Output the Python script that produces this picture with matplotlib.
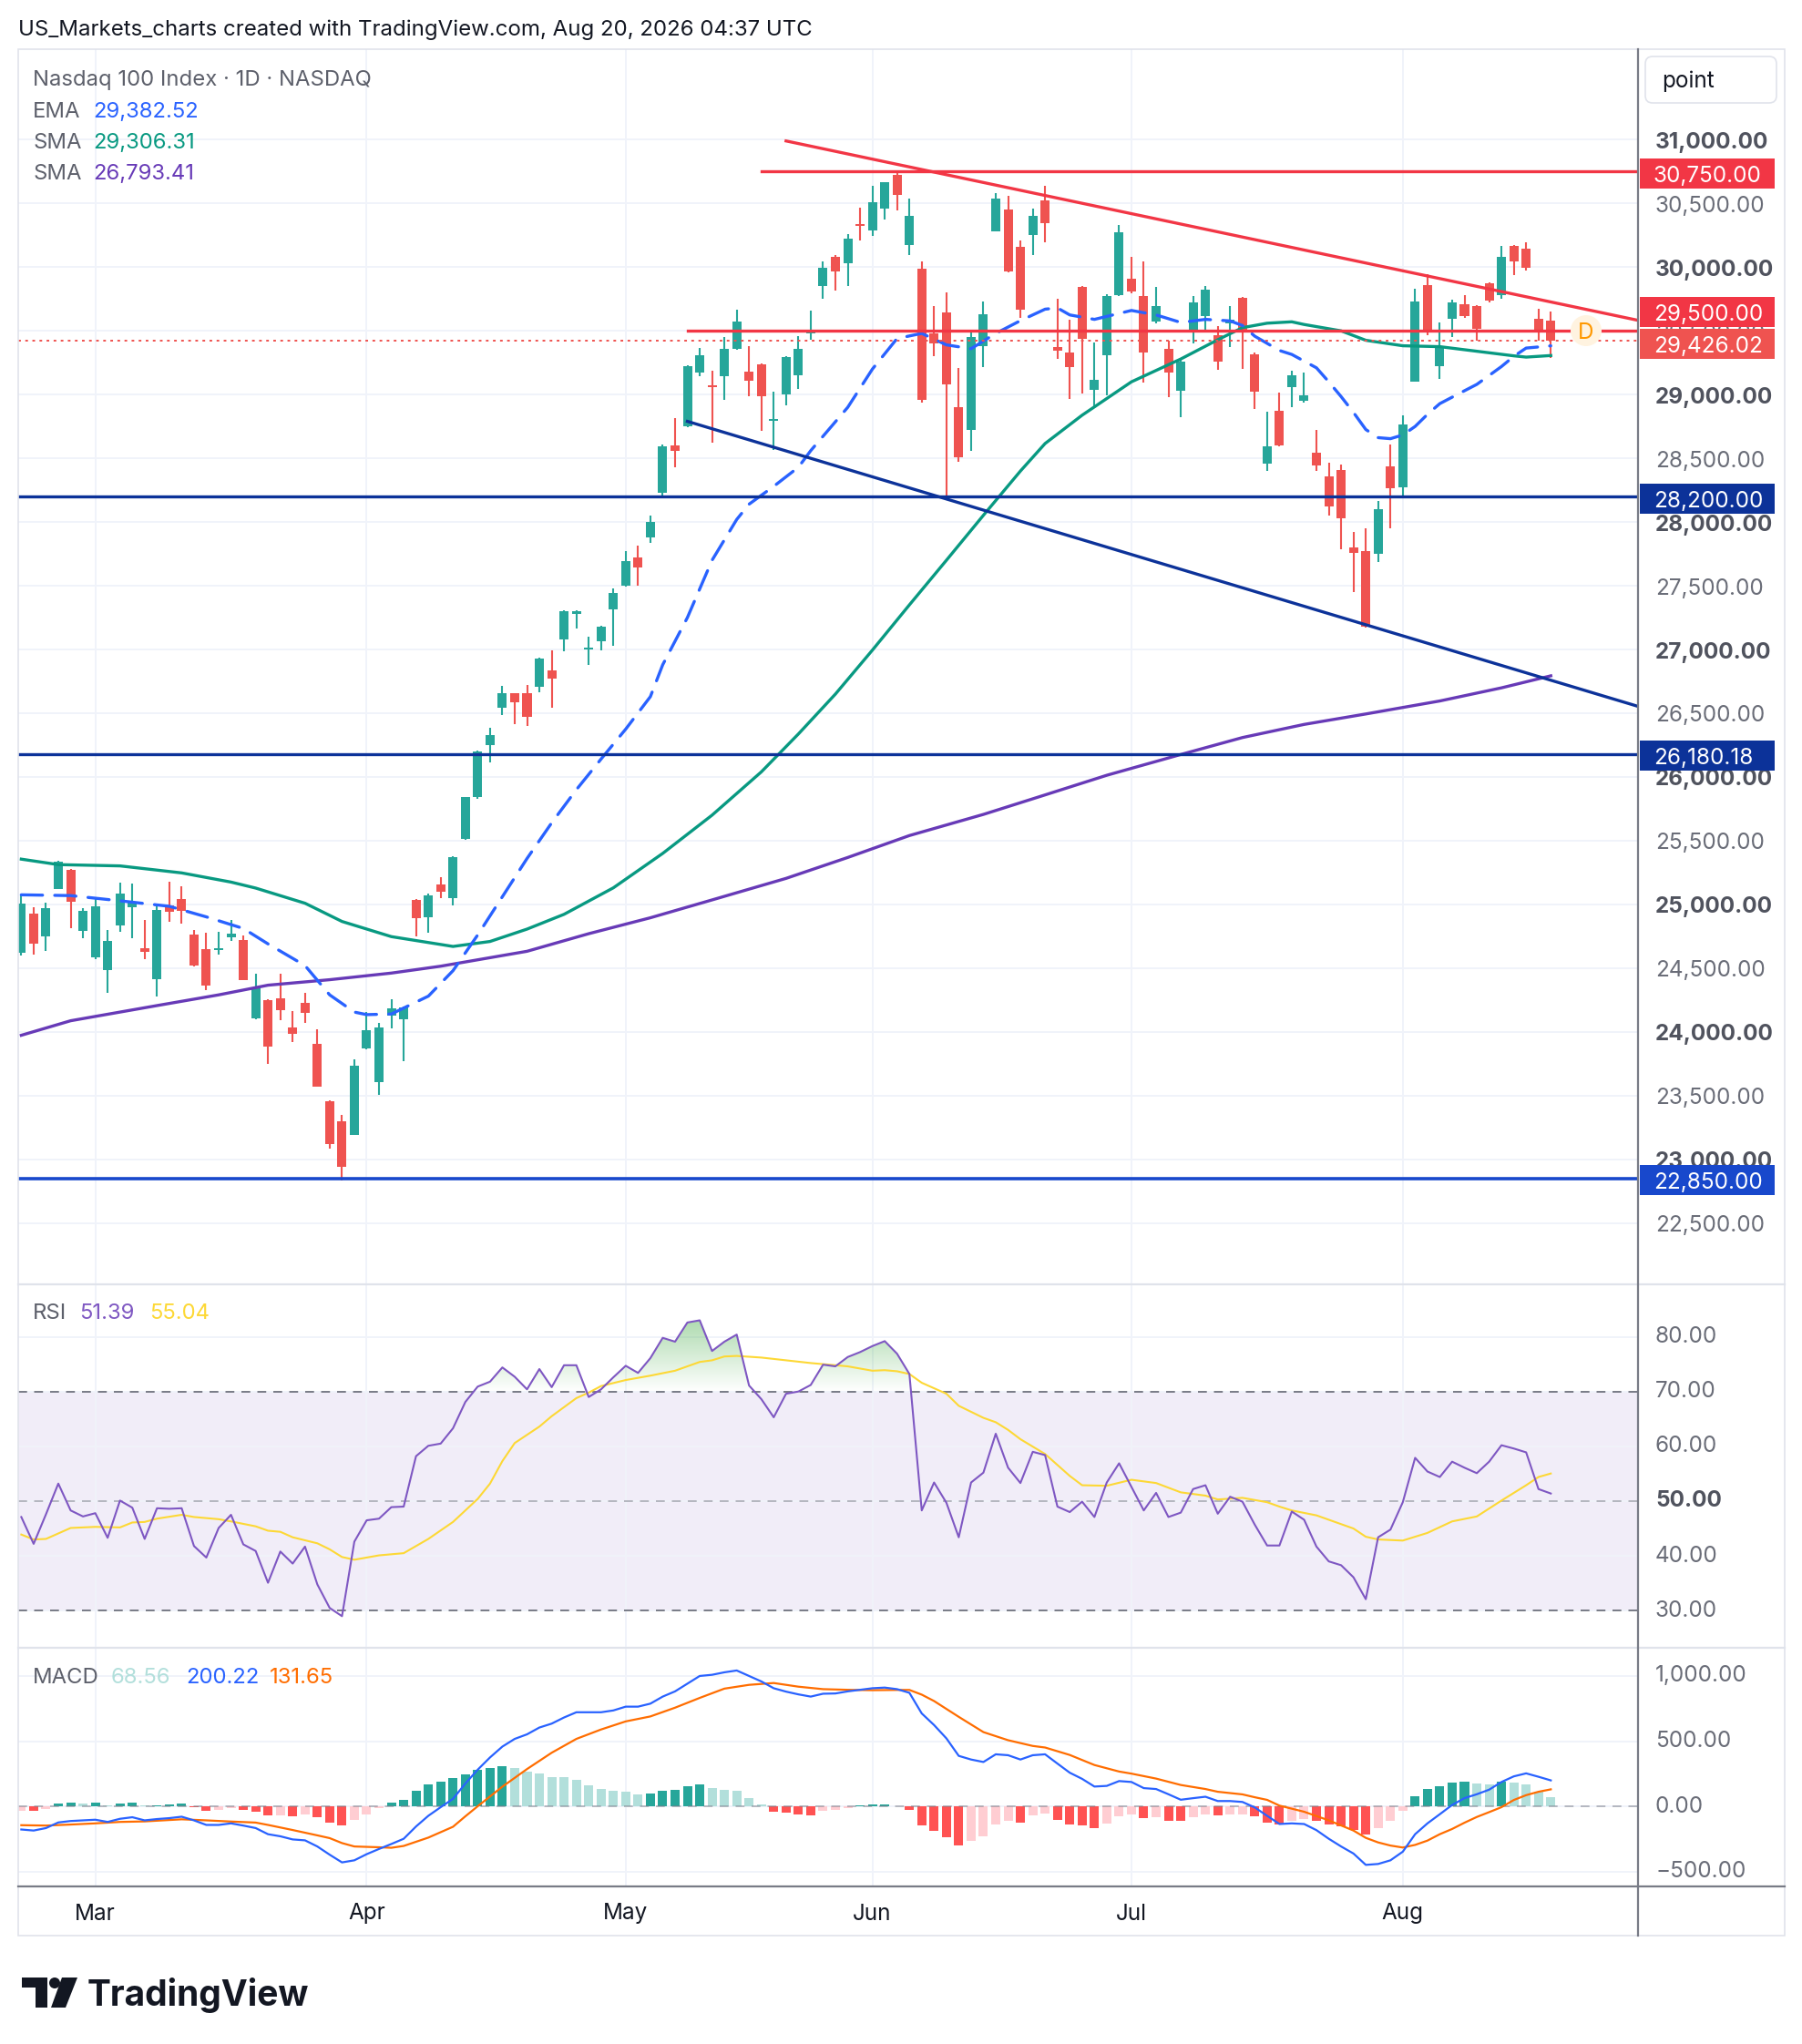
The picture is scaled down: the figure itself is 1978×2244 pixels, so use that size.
import numpy as np
import matplotlib
matplotlib.use("Agg")
import matplotlib.pyplot as plt
from matplotlib import transforms
from matplotlib.patches import Rectangle, FancyBboxPatch, PathPatch, Circle, Polygon
from matplotlib.path import Path

plt.rcParams['font.family'] = ['Inter', 'DejaVu Sans']

# ---------------- DATA ----------------
months = ['Mar', 'Apr', 'May', 'Jun', 'Jul', 'Aug']
month_idx = [6, 28, 49, 69, 90, 112]

opens = [24623, 24926, 24752, 25123, 25273, 24795, 24587, 24487, 24838, 24980,
         24657, 24416, 24992, 25042, 24764, 24647, 24640, 24742, 24721, 24109,
         24252, 24263, 24035, 24228, 23906, 23456, 23299, 23194, 23870, 23608,
         24130, 24097, 25033, 24902, 25157, 25052, 25511, 25845, 26248, 26542,
         26655, 26655, 26705, 26837, 27077, 27279, 27004, 27062, 27318, 27500,
         27721, 27880, 28228, 28604, 28752, 29174, 29068, 29147, 29360, 29178,
         29240, 28798, 29003, 29148, 29484, 29850, 30084, 30027, 30336, 30291,
         30462, 30727, 30172, 29991, 29481, 29648, 28898, 28726, 29379, 30284,
         30455, 30160, 30255, 30527, 29370, 29327, 29847, 29036, 29308, 29780,
         29912, 29776, 29573, 29361, 29031, 29492, 29618, 29466, 29561, 29761,
         29315, 28456, 28874, 29060, 28953, 28542, 28355, 28405, 27801, 27774,
         27748, 28439, 28272, 29103, 29859, 29220, 29593, 29710, 29696, 29873,
         29777, 30167, 30145, 29593, 29579]
highs = [25069, 24978, 25014, 25340, 25280, 24973, 25050, 24799, 25171, 25164,
         24878, 25004, 25178, 25142, 24799, 24778, 24782, 24878, 24757, 24456,
         24255, 24456, 24163, 24306, 24020, 23460, 23349, 23785, 24156, 24071,
         24254, 24200, 25040, 25085, 25214, 25378, 25845, 26205, 26387, 26713,
         26660, 26725, 26938, 26996, 27305, 27305, 27101, 27186, 27480, 27771,
         27818, 28054, 28605, 28818, 29232, 29368, 29186, 29449, 29666, 29380,
         29245, 29023, 29300, 29462, 29662, 30048, 30096, 30262, 30469, 30636,
         30669, 30762, 30541, 30048, 29696, 29803, 29212, 29505, 29731, 30584,
         30560, 30212, 30462, 30641, 29749, 29590, 29850, 29411, 29790, 30329,
         30084, 30048, 29847, 29423, 29279, 29776, 29852, 29537, 29697, 29768,
         29327, 28867, 29017, 29189, 29172, 28726, 28468, 28453, 27925, 27954,
         28162, 28606, 28840, 29830, 29945, 29567, 29746, 29782, 29700, 29882,
         30167, 30174, 30196, 29675, 29651]
lows = [24600, 24609, 24635, 25120, 24814, 24735, 24568, 24306, 24788, 24735,
        24573, 24280, 24864, 24849, 24514, 24330, 24604, 24716, 24405, 24097,
        23751, 24094, 23920, 24071, 23570, 23087, 22837, 23190, 23866, 23508,
        24030, 23770, 24752, 24780, 25052, 24995, 25505, 25830, 26112, 26484,
        26414, 26403, 26666, 26542, 26988, 27163, 26880, 26996, 27027, 27495,
        27500, 27837, 28209, 28430, 28745, 29147, 28624, 28961, 29349, 28984,
        28713, 28566, 28914, 29041, 29429, 29755, 29815, 29850, 30212, 30243,
        30374, 30446, 30093, 28934, 29298, 28196, 28469, 28557, 29219, 30280,
        29960, 29605, 30093, 30193, 29279, 28964, 29005, 28898, 28993, 29775,
        29797, 29096, 29561, 28981, 28821, 29403, 29494, 29196, 29375, 29203,
        28890, 28401, 28593, 28898, 28938, 28401, 28049, 27786, 27447, 27175,
        27686, 27949, 28195, 29100, 29467, 29125, 29455, 29605, 29424, 29722,
        29753, 29937, 29971, 29426, 29287]
closes = [25004, 24695, 24969, 25335, 25023, 24950, 24985, 24714, 25085, 25014,
          24630, 24957, 24945, 24952, 24521, 24366, 24655, 24771, 24409, 24349,
          23887, 24173, 23987, 24152, 23573, 23122, 22944, 23735, 24013, 24035,
          24183, 24192, 24890, 25071, 25102, 25371, 25841, 26201, 26325, 26659,
          26585, 26473, 26930, 26775, 27302, 27300, 27015, 27178, 27442, 27694,
          27643, 28004, 28597, 28558, 29225, 29310, 29058, 29360, 29573, 29108,
          28984, 28810, 29294, 29362, 29492, 29998, 29969, 30227, 30326, 30512,
          30665, 30565, 30405, 28957, 29405, 29077, 28510, 29450, 29631, 30541,
          29965, 29665, 30403, 30343, 29346, 29215, 29435, 29117, 29776, 30277,
          29809, 29332, 29697, 29172, 29256, 29726, 29826, 29260, 29590, 29504,
          29024, 28592, 28599, 29153, 28993, 28447, 28123, 28028, 27758, 27179,
          28104, 28267, 28769, 29729, 29486, 29371, 29722, 29615, 29519, 29737,
          30083, 30045, 29992, 29510, 29426.02]

ema_idx = [0, 4, 8, 12, 15, 18, 20, 23, 25, 27, 28, 30, 33, 35, 37, 39, 41, 43, 45, 47,
           49, 51, 52, 54, 56, 58, 59, 61, 63, 64, 67, 69, 71, 73, 75, 77, 79, 81, 83, 84,
           85, 87, 90, 92, 94, 96, 98, 99, 100, 102, 103, 105, 106, 107, 108, 109, 110, 111,
           112, 113, 114, 115, 117, 118, 120, 121, 122, 124]
ema_val = [25075, 25069, 25028, 24985, 24902, 24811, 24690, 24520, 24290, 24155, 24135,
           24140, 24280, 24480, 24760, 25060, 25360, 25640, 25900, 26140, 26375, 26630,
           26880, 27250, 27700, 28020, 28140, 28280, 28430, 28560, 28900, 29200, 29440,
           29480, 29390, 29360, 29480, 29580, 29670, 29680, 29625, 29590, 29660, 29625,
           29566, 29590, 29578, 29542, 29458, 29346, 29315, 29210, 29100, 28984, 28860,
           28726, 28662, 28654, 28683, 28750, 28845, 28929, 29030, 29080, 29220, 29300,
           29365, 29382.52]

sma50_idx = [0, 3, 8, 13, 17, 19, 23, 26, 30, 35, 38, 41, 44, 48, 52, 56, 60, 63, 66, 69,
             72, 75, 78, 81, 83, 86, 90, 94, 97, 99, 101, 103, 104, 107, 109, 112, 115, 118,
             121, 122, 124]
sma50_val = [25355, 25312, 25302, 25247, 25175, 25128, 25009, 24866, 24747, 24670, 24709,
             24806, 24922, 25130, 25400, 25700, 26040, 26337, 26650, 26995, 27350, 27700,
             28053, 28400, 28616, 28838, 29100, 29279, 29430, 29525, 29560, 29571, 29550,
             29500, 29426, 29383, 29376, 29340, 29304, 29294, 29306.31]

sma200_idx = [0, 4, 11, 16, 20, 25, 30, 34, 41, 46, 51, 56, 62, 67, 72, 78, 83, 88, 94,
              99, 104, 109, 115, 120, 124]
sma200_val = [23973, 24087, 24206, 24290, 24366, 24409, 24461, 24515, 24632, 24770, 24895,
              25035, 25204, 25368, 25540, 25706, 25859, 26013, 26176, 26309, 26412, 26494,
              26596, 26699, 26793.41]

rsi_val = [47.1, 42.2, 47.6, 53.2, 48.3, 47.2, 47.8, 43.3, 50.1, 48.8,
           43.1, 48.7, 48.6, 48.7, 41.8, 39.7, 45.1, 47.5, 42.1, 40.9,
           35.1, 40.8, 38.6, 41.7, 34.8, 30.5, 29.0, 42.6, 46.5, 46.8,
           48.9, 49.0, 58.2, 60.1, 60.5, 63.3, 68.1, 70.9, 71.8, 74.4,
           72.7, 70.4, 74.1, 70.8, 74.8, 74.8, 69.0, 70.4, 72.6, 74.7,
           73.4, 76.1, 79.8, 79.1, 82.6, 83.0, 77.4, 79.1, 80.4, 71.1,
           68.6, 65.3, 69.6, 70.0, 71.2, 74.9, 74.6, 76.3, 77.2, 78.3,
           79.2, 76.9, 73.2, 48.3, 53.4, 49.7, 43.4, 53.4, 55.2, 62.3,
           56.1, 53.3, 59.0, 58.4, 49.0, 48.0, 49.9, 47.1, 53.4, 56.9,
           52.6, 48.3, 51.5, 47.1, 47.9, 52.2, 52.9, 47.7, 50.8, 49.9,
           45.7, 41.9, 41.9, 48.1, 46.6, 41.7, 39.0, 38.3, 36.1, 32.1,
           43.4, 44.8, 49.8, 57.9, 55.4, 54.4, 57.2, 56.1, 55.1, 57.2,
           60.2, 59.6, 58.9, 52.2, 51.39]

rsi_ma_idx = [0, 1, 2, 4, 6, 8, 9, 10, 11, 13, 14, 16, 17, 19, 20, 21, 22, 24, 25, 26, 27,
              28, 29, 31, 33, 35, 37, 38, 39, 40, 42, 43, 45, 46, 47, 49, 51, 53, 55, 56, 57,
              58, 60, 62, 64, 67, 69, 70, 71, 72, 73, 75, 76, 78, 79, 80, 81, 83, 85, 86, 88,
              90, 92, 94, 96, 97, 99, 101, 102, 103, 105, 106, 108, 109, 110, 112, 114, 116,
              118, 120, 122, 123, 124]
rsi_ma_val = [43.9, 43.0, 43.1, 45.1, 45.3, 45.2, 46.1, 46.2, 46.8, 47.5, 47.1, 46.7, 46.3,
              45.4, 44.6, 44.4, 43.4, 42.3, 41.2, 39.8, 39.3, 39.7, 40.1, 40.5, 43.1, 46.2,
              50.4, 53.2, 57.3, 60.6, 63.6, 65.5, 68.8, 69.8, 71.0, 72.1, 72.9, 73.8, 75.4,
              75.7, 76.4, 76.5, 76.2, 75.7, 75.2, 74.6, 73.8, 73.9, 73.7, 73.2, 71.6, 69.6,
              67.4, 65.2, 64.4, 63.0, 61.3, 58.6, 54.6, 52.9, 52.8, 53.9, 53.3, 51.6, 51.0,
              50.3, 50.6, 49.8, 49.0, 48.3, 47.4, 46.6, 45.0, 43.5, 43.0, 42.8, 44.2, 46.3,
              47.2, 50.1, 52.9, 54.4, 55.04]

macd_val = [-176, -184, -165, -122, -111, -106, -101, -118, -94, -82,
            -106, -96, -89, -78, -106, -141, -141, -129, -146, -165,
            -212, -228, -252, -259, -306, -369, -428, -412, -365, -325,
            -287, -247, -153, -71, -5, 59, 176, 282, 376, 459,
            518, 553, 605, 635, 682, 722, 722, 722, 736, 765,
            765, 788, 842, 882, 941, 1000, 1009, 1028, 1042, 1000,
            958, 906, 880, 859, 842, 864, 866, 882, 894, 906,
            911, 899, 871, 713, 624, 522, 388, 360, 341, 400,
            393, 360, 393, 400, 329, 259, 212, 153, 158, 195,
            188, 141, 134, 94, 52, 64, 75, 42, 42, 35,
            -7, -71, -134, -129, -134, -181, -247, -306, -360, -447,
            -440, -412, -346, -212, -129, -59, 12, 64, 94, 129,
            188, 231, 254, 228, 200.22]

signal_idx = [0, 2, 4, 6, 8, 10, 13, 15, 17, 19, 20, 22, 24, 25, 26, 27, 29, 30, 31, 33,
              35, 36, 37, 39, 41, 43, 45, 47, 49, 51, 53, 55, 57, 59, 61, 63, 65, 67, 69,
              71, 72, 73, 74, 76, 78, 80, 82, 83, 85, 87, 89, 90, 92, 94, 96, 97, 99, 100,
              101, 102, 104, 106, 108, 109, 110, 111, 112, 113, 114, 115, 116, 117, 118,
              119, 120, 121, 122, 123, 124]
signal_val = [-143, -146, -138, -129, -118, -114, -98, -106, -115, -123, -141, -180, -221,
              -242, -280, -306, -312, -316, -302, -238, -155, -75, 2, 152, 287, 412, 518,
              590, 652, 690, 757, 832, 903, 932, 946, 918, 899, 894, 891, 893, 893, 857, 808,
              687, 570, 508, 464, 452, 395, 318, 268, 252, 214, 165, 134, 113, 93, 71, 51, 7,
              -40, -106, -184, -240, -275, -299, -314, -294, -261, -212, -172, -124, -80,
              -43, -5, 50, 87, 113, 131.65]

hist_val = [-33, -36, -19, 24, 27, 25, 28, 12, 24, 27,
            8, 12, 18, 20, -7, -35, -28, -14, -28, -42,
            -71, -68, -72, -61, -85, -127, -148, -106, -59, -14,
            31, 54, 118, 167, 188, 216, 247, 280, 294, 308,
            294, 268, 252, 226, 222, 205, 160, 132, 120, 111,
            96, 98, 124, 126, 153, 169, 139, 125, 118, 68,
            16, -42, -49, -58, -66, -35, -28, -14, 12, 14,
            19, 5, -24, -144, -184, -235, -299, -264, -228, -136,
            -113, -122, -71, -52, -101, -136, -144, -165, -129, -73,
            -64, -92, -80, -108, -113, -85, -59, -71, -59, -58,
            -78, -122, -141, -108, -94, -113, -141, -153, -176, -212,
            -165, -113, -35, 82, 132, 153, 184, 188, 174, 172,
            193, 181, 167, 115, 68.56]

price_ticks = list(range(22500, 31001, 500))
rsi_ticks = [30, 40, 50, 60, 70, 80]
macd_ticks = [-500, 0, 500, 1000]

res_line = ([62, 126], [30990, 29686])      # red falling resistance
sup_line = ([54, 115], [28790, 27020])      # navy falling support
red_levels = [(30750.00, 60), (29500.00, 54)]
navy_levels = [28200.00, 26180.18]
blue_level = 22850.00
last_price = closes[-1]

# ---------------- STYLE ----------------
UP, DN = '#26a69a', '#ef5350'
RED, NAVY, BLUE2 = '#f23645', '#0c3299', '#1848cc'
GRID = '#f0f3fa'
TXT = '#131722'
AX_TXT = '#6a6d78'
FS_AX = 17.5
FS_LG = 17.2

W, H = 1978, 2244
fig = plt.figure(figsize=(W / 100, H / 100), dpi=100)
fig.patch.set_facecolor('white')
down3 = transforms.ScaledTranslation(0, -3 / 100, fig.dpi_scale_trans)

L, R = 20, 1798
XMIN, XMAX = -0.25, 131.07
P_TOP, P_BOT, P_LIM = 54, 1409, (22026, 31710)
R_TOP, R_BOT, R_LIM = 1411, 1808, (23.4, 89.4)
M_TOP, M_BOT, M_LIM = 1810, 2071, (-612, 1209)


def make_ax(top, bot, ylim):
    ax = fig.add_axes([L / W, 1 - bot / H, (R - L) / W, (bot - top) / H])
    ax.set_xlim(XMIN, XMAX)
    ax.set_ylim(*ylim)
    ax.set_axis_off()
    return ax


ax_p = make_ax(P_TOP, P_BOT, P_LIM)
ax_r = make_ax(R_TOP, R_BOT, R_LIM)
ax_m = make_ax(M_TOP, M_BOT, M_LIM)

for ax, ticks in ((ax_p, price_ticks), (ax_r, rsi_ticks), (ax_m, macd_ticks)):
    for t in ticks:
        ax.axhline(t, color=GRID, lw=1.4, zorder=0.5)
    for m in month_idx:
        ax.axvline(m, color=GRID, lw=1.4, zorder=0.5)

# ---------------- PRICE PANE ----------------
x = np.arange(len(closes))
o = np.array(opens, float)
h = np.array(highs, float)
l = np.array(lows, float)
c = np.array(closes, float)
col = np.where(c >= o, UP, DN)
ax_p.vlines(x, l, h, colors=col, lw=1.5, zorder=3)
mid = (o + c) / 2
bh = np.maximum(np.abs(c - o), 14)
ax_p.bar(x, bh, bottom=mid - bh / 2, width=0.74, color=col, lw=0, zorder=3.5)

ax_p.plot(sma200_idx, sma200_val, color='#673ab7', lw=2.4, zorder=4)
ax_p.plot(sma50_idx, sma50_val, color='#089981', lw=2.4, zorder=4)
ax_p.plot(ema_idx, ema_val, color='#2962ff', lw=2.4, ls=(0, (7, 4)), zorder=4.2,
          dash_capstyle='round')


def extend(pts):
    (x0, x1), (y0, y1) = pts
    s = (y1 - y0) / (x1 - x0)
    return [x0, XMAX], [y0, y0 + s * (XMAX - x0)]


ax_p.plot(*extend(res_line), color=RED, lw=2.4, zorder=5)
ax_p.plot(*extend(sup_line), color=NAVY, lw=2.4, zorder=5)
for price, start in red_levels:
    ax_p.plot([start, XMAX], [price, price], color=RED, lw=2.4, zorder=5)
for price in navy_levels:
    ax_p.axhline(price, color=NAVY, lw=2.4, zorder=5)
ax_p.axhline(blue_level, color=BLUE2, lw=2.6, zorder=5)
ax_p.axhline(last_price, color='#ef5350', lw=1.4, ls=(0, (1.5, 2.5)), zorder=5)

# right price scale
tr_p = transforms.blended_transform_factory(fig.transFigure, ax_p.transData)
for t in price_ticks:
    bold = t % 1000 == 0
    ax_p.text(1817 / W, t, f'{t:,.2f}', transform=tr_p + down3, va='center', ha='left',
              fontsize=FS_AX, color='#50535e' if bold else AX_TXT,
              fontweight='bold' if bold else 'normal', clip_on=False, zorder=6)

upp = (P_LIM[1] - P_LIM[0]) / (P_BOT - P_TOP)
labels = [(red_levels[0][0], RED, 2), (red_levels[1][0], RED, -21),
          (last_price, '#ef5350', 4), (navy_levels[0], NAVY, 2),
          (navy_levels[1], NAVY, 2), (blue_level, BLUE2, 2)]
for price, colr, dpx in labels:
    yc = price - dpx * upp
    ax_p.add_patch(Rectangle((1800 / W, yc - 16.5 * upp), 148 / W, 33 * upp,
                             transform=tr_p, facecolor=colr, edgecolor='none',
                             clip_on=False, zorder=7))
    ax_p.text(1815 / W, yc, f'{price:,.2f}', transform=tr_p + down3, va='center',
              ha='left', fontsize=FS_AX, color='white', clip_on=False, zorder=8)

# ---------------- RSI PANE ----------------
rsi = np.array(rsi_val)
ax_r.axhspan(30, 70, color='#7e57c2', alpha=0.1, lw=0, zorder=0.4)
for lvl, a in ((70, 1.0), (50, 0.5), (30, 1.0)):
    ax_r.axhline(lvl, color='#787b86', alpha=a, lw=1.4, ls=(0, (5, 4)), zorder=1)
fb = ax_r.fill_between(x, 70, rsi, where=rsi >= 70, interpolate=True,
                       facecolor='none', edgecolor='none')
paths = fb.get_paths()
if len(paths):
    cp = Path.make_compound_path(*paths)
    clip = PathPatch(cp, transform=ax_r.transData, facecolor='none', edgecolor='none')
    ax_r.add_patch(clip)
    grad = np.zeros((256, 1, 4))
    grad[..., 0], grad[..., 1], grad[..., 2] = 0.30, 0.69, 0.31
    grad[..., 3] = np.linspace(0.0, 0.45, 256)[:, None]
    im = ax_r.imshow(grad, extent=[XMIN, XMAX, 70, rsi.max()], origin='lower',
                     aspect='auto', zorder=2, interpolation='bilinear')
    im.set_clip_path(clip)
ax_r.plot(rsi_ma_idx, rsi_ma_val, color='#fdd835', lw=1.5, zorder=3)
ax_r.plot(x, rsi, color='#7e57c2', lw=1.5, zorder=4)
ax_r.set_xlim(XMIN, XMAX)
ax_r.set_ylim(*R_LIM)

tr_r = transforms.blended_transform_factory(fig.transFigure, ax_r.transData)
for t in rsi_ticks:
    ax_r.text(1817 / W, t, f'{t:.2f}', transform=tr_r, va='center', ha='left',
              fontsize=FS_AX, color='#50535e' if t == 50 else AX_TXT,
              fontweight='bold' if t == 50 else 'normal', clip_on=False)

# ---------------- MACD PANE ----------------
hv = np.array(hist_val)
prev = np.r_[hv[0], hv[:-1]]
hcol = np.where(hv >= 0, np.where(hv > prev, '#26a69a', '#b2dfdb'),
                np.where(hv < prev, '#ff5252', '#ffcdd2'))
ax_m.bar(x, hv, width=0.74, color=hcol, lw=0, zorder=2)
ax_m.axhline(0, color='#787b86', alpha=0.5, lw=1.4, ls=(0, (5, 4)), zorder=2.5)
ax_m.plot(signal_idx, signal_val, color='#ff6d00', lw=1.6, zorder=3)
ax_m.plot(x, macd_val, color='#2962ff', lw=1.6, zorder=3.2)

tr_m = transforms.blended_transform_factory(fig.transFigure, ax_m.transData)
for t in macd_ticks:
    s = f'{abs(t):,.2f}'
    if t < 0:
        s = '\u2212' + s
    ax_m.text(1817 / W, t, s, transform=tr_m, va='center', ha='left',
              fontsize=FS_AX, color=AX_TXT, clip_on=False)

tr_x = transforms.blended_transform_factory(ax_m.transData, fig.transFigure)
for name, idx in zip(months, month_idx):
    ax_m.text(idx, 1 - 2101 / H, name, transform=tr_x, ha='center', va='center',
              fontsize=17.5, color=TXT, clip_on=False)

# ---------------- CHROME OVERLAY ----------------
ov = fig.add_axes([0, 0, 1, 1], zorder=10)
ov.set_xlim(0, W)
ov.set_ylim(H, 0)
ov.set_axis_off()
ov.patch.set_visible(False)

ov.add_patch(Rectangle((20, 54), 1939, 2071, fill=False, edgecolor='#e0e3eb', lw=1.2))
ov.plot([20, 1959], [1410, 1410], color='#e0e3eb', lw=1.6)
ov.plot([20, 1959], [1809, 1809], color='#e0e3eb', lw=1.6)
ov.plot([20, 1959], [2071, 2071], color='#787b86', lw=1.6)
ov.plot([1798, 1798], [54, 2125], color='#787b86', lw=1.6)

ov.add_patch(FancyBboxPatch((1806, 62), 144, 51, boxstyle='round,pad=0,rounding_size=8',
                            facecolor='white', edgecolor='#e0e3eb', lw=1.2))
ov.text(1824, 89, 'point', fontsize=17.5, color=TXT, va='center', ha='left')

ov.add_patch(Circle((1741, 363), 17, facecolor='#fff3e0', edgecolor='none'))
ov.text(1741, 365, 'D', fontsize=17.5, color='#ff9800', ha='center', va='center')


def otext(xp, yp, s, color, fs=FS_LG, **kw):
    ov.text(xp, yp + 3, s, fontsize=fs, color=color, va='center', ha='left', **kw)


otext(20, 30, 'US_Markets_charts created with TradingView.com, Aug 20, 2026 04:37 UTC',
      TXT, fs=17.3)
GL = '#5d606b'
otext(36, 85, 'Nasdaq 100 Index \u00b7 1D \u00b7 NASDAQ', GL)
otext(36, 120, 'EMA', GL)
otext(102, 120, f'{ema_val[-1]:,.2f}', '#2962ff')
otext(36, 154, 'SMA', GL)
otext(102, 154, f'{sma50_val[-1]:,.2f}', '#089981')
otext(36, 188, 'SMA', GL)
otext(102, 188, f'{sma200_val[-1]:,.2f}', '#673ab7')

otext(36, 1439, 'RSI', GL)
otext(87, 1439, f'{rsi_val[-1]:.2f}', '#7e57c2')
otext(164, 1439, f'{rsi_ma_val[-1]:.2f}', '#fdd835')

otext(36, 1839, 'MACD', GL)
otext(122, 1839, f'{hist_val[-1]:.2f}', '#b2dfdb')
otext(204, 1839, f'{macd_val[-1]:.2f}', '#2962ff')
otext(296, 1839, f'{signal_val[-1]:.2f}', '#ff6d00')

# TradingView logo
ov.add_patch(Rectangle((24, 2171), 28, 11, facecolor=TXT, edgecolor='none'))
ov.add_patch(Rectangle((39, 2171), 13, 33, facecolor=TXT, edgecolor='none'))
ov.add_patch(Circle((60, 2177), 6, facecolor=TXT, edgecolor='none'))
ov.add_patch(Polygon([(68, 2171), (85, 2171), (72, 2204), (56, 2204)],
                     facecolor=TXT, edgecolor='none'))
ov.text(96, 2190, 'TradingView', fontsize=28, fontweight='bold', color=TXT,
        va='center', ha='left')

fig.savefig('out.png', dpi=100, facecolor='white')
